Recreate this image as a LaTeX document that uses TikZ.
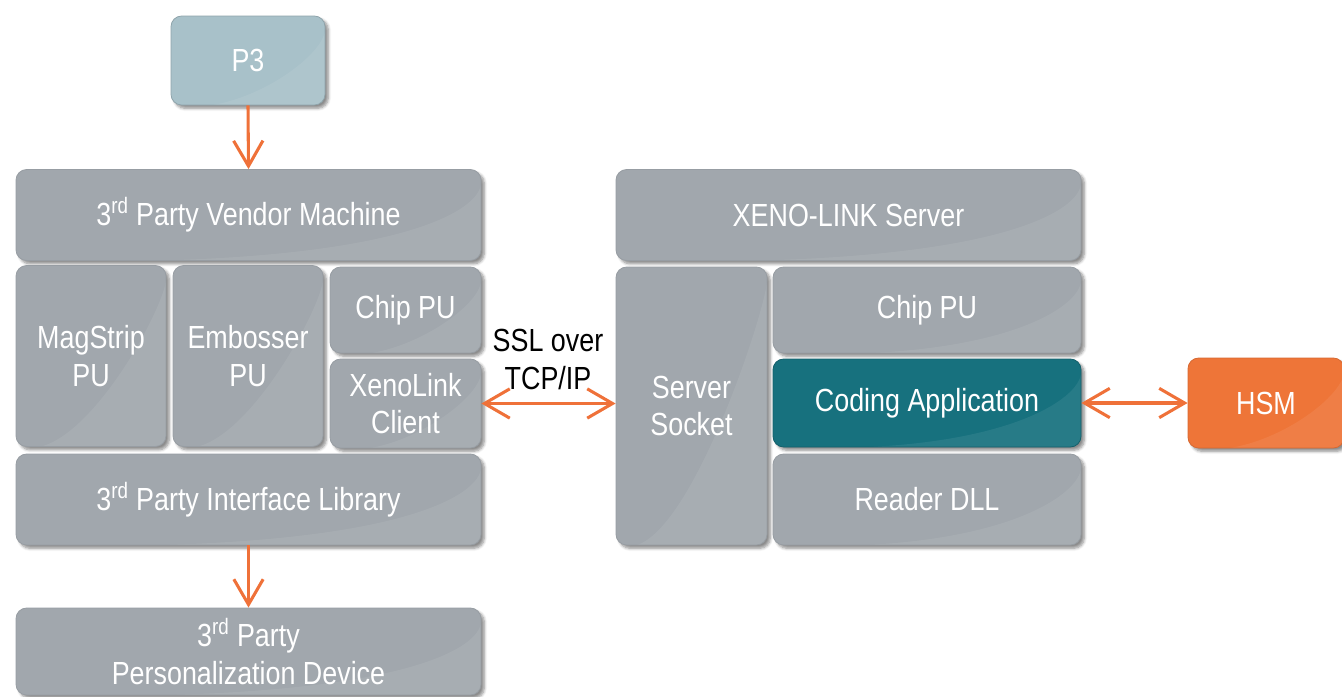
\documentclass[tikz,border=0pt]{standalone}
\usepackage{fontspec}
\setmainfont{Liberation Sans}[FakeStretch=0.84]
\usetikzlibrary{shadows.blur,arrows.meta}
\definecolor{boxgrey}{HTML}{A1A7AD}
\definecolor{boxedge}{HTML}{979DA3}
\definecolor{ptblue}{HTML}{A8C1C9}
\definecolor{teal}{HTML}{17717E}
\definecolor{hsmorange}{HTML}{EE7538}
\definecolor{arrowor}{HTML}{EF7139}
\begin{document}
\begin{tikzpicture}[x=0.75pt,y=-0.75pt,
  blk/.style={draw=boxedge, line width=0.6pt, fill=boxgrey, rounded corners=8pt,
    blur shadow={shadow xshift=2.5pt, shadow yshift=-2.5pt, shadow blur steps=6, shadow opacity=45},
    text=white, font=\fontsize{24}{28}\selectfont, align=center, inner sep=0pt,
    path picture={\fill[white,opacity=0.07] (path picture bounding box.south west) .. controls ([xshift=-60pt,yshift=-6pt]path picture bounding box.south east) and ([yshift=-30pt]path picture bounding box.north east) .. ([yshift=-2pt]path picture bounding box.north east) -- (path picture bounding box.south east) -- cycle;}},
  sz/.style 2 args={minimum width=#1*0.75pt, minimum height=#2*0.75pt},
  conn/.style={draw=arrowor, line width=2.3pt, -{Straight Barb[length=19pt,width=22pt]}},
  dconn/.style={draw=arrowor, line width=2.3pt, {Straight Barb[length=19pt,width=22pt]}-{Straight Barb[length=19pt,width=22pt]}}
]
\useasboundingbox (0,0) rectangle (1342,696);
\begin{scope}
\clip (0,0) rectangle (1342,696);
\node[blk, fill=ptblue, draw=ptblue!85!black, sz={154}{89}] (p3) at (248,60.5) {P3};
\node[blk, sz={465}{91}] (vendor) at (248.5,215) {3\textsuperscript{rd} Party Vendor Machine};
\node[blk, sz={150}{181}] (mag) at (91,356) {MagStrip\\PU};
\node[blk, sz={150}{181}] (emb) at (248,356) {Embosser\\PU};
\node[blk, sz={151}{86}] (chipl) at (405.5,310) {Chip PU};
\node[blk, sz={151}{89}] (xcl) at (405.5,403.5) {XenoLink\\Client};
\node[blk, sz={465}{91}] (iface) at (248.5,499.5) {3\textsuperscript{rd} Party Interface Library};
\node[blk, sz={465}{87}] (pers) at (248.5,651.5) {3\textsuperscript{rd} Party\\Personalization Device};
\node[blk, sz={465}{91}] (server) at (848.5,215) {XENO-LINK Server};
\node[blk, sz={151}{278}] (sock) at (691.5,406) {Server\\Socket};
\node[blk, sz={308}{86}] (chipr) at (927,310) {Chip PU};
\node[blk, fill=teal, draw=teal!85!black, sz={308}{88}] (coding) at (927,403) {Coding Application};
\node[blk, sz={308}{91}] (reader) at (927,499.5) {Reader DLL};
\node[blk, fill=hsmorange, draw=hsmorange!90!black, sz={156}{90}] (hsm) at (1266,403) {HSM};
\end{scope}
\node[font=\fontsize{24}{28.5}\selectfont, align=center, text=black] (ssl) at (548,359) {SSL over\\TCP/IP};
\draw[conn] (p3.south) -- (vendor.north);
\draw[conn] (iface.south) -- (pers.north);
\draw[dconn] (xcl.east) -- (sock.west |- xcl.east);
\draw[dconn] (coding.east) -- (hsm.west);
\end{tikzpicture}
\end{document}
